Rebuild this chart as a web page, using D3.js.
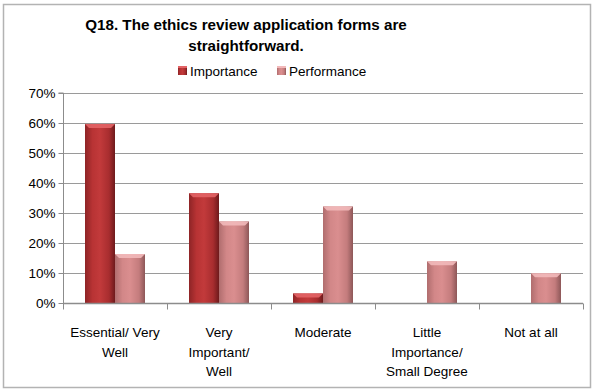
<!DOCTYPE html>
<html>
<head>
<meta charset="utf-8">
<script src="https://cdn.jsdelivr.net/npm/d3@7"></script>
<style>
  body { margin: 0; background: #fff; }
  svg { display: block; font-family: "Liberation Sans", Arial, sans-serif; }
</style>
</head>
<body>
<svg id="chart" width="595" height="390"></svg>
<script>
const categories = [
  ["Essential/ Very", "Well"],
  ["Very", "Important/", "Well"],
  ["Moderate"],
  ["Little", "Importance/", "Small Degree"],
  ["Not at all"]
];
const seriesNames = ["Importance", "Performance"];
const importance = [0.597, 0.366, 0.032, 0, 0];
const performance = [0.163, 0.272, 0.322, 0.139, 0.099];
const yTicks = [0, 0.1, 0.2, 0.3, 0.4, 0.5, 0.6, 0.7];

const svg = d3.select("#chart");
const W = 595, H = 390;
const m = { left: 63, right: 12, top: 93, bottom: 87 };

// outer frame
svg.append("rect").attr("x", 3.5).attr("y", 4.5).attr("width", W - 8).attr("height", H - 7)
  .attr("fill", "#fff").attr("stroke", "#b3b3b3").attr("stroke-width", 1.5);

// gradients for bar shading
const defs = svg.append("defs");
function barGrad(id, stops) {
  const g = defs.append("linearGradient").attr("id", id).attr("x1", 0).attr("x2", 1).attr("y1", 0).attr("y2", 0);
  stops.forEach(([o, c]) => g.append("stop").attr("offset", o).attr("stop-color", c));
}
barGrad("gImp", [[0, "#8e2426"], [0.25, "#b83334"], [0.5, "#c23a3b"], [0.8, "#a82d2f"], [1, "#6e1a1c"]]);
barGrad("gPerf", [[0, "#b06d6e"], [0.25, "#d28788"], [0.5, "#da8e8f"], [0.8, "#c47c7d"], [1, "#8d5758"]]);
const capColors = ["#e36466", "#f2b9ba"];

const x0 = d3.scaleBand().domain(d3.range(categories.length)).range([m.left, W - m.right]);
const x1 = d3.scaleBand().domain(seriesNames).range([0, 60]);
const y = d3.scaleLinear().domain([0, 0.7]).range([H - m.bottom, m.top]);

// gridlines
svg.append("g").selectAll("line").data(yTicks.slice(1)).join("line")
  .attr("x1", m.left).attr("x2", W - m.right)
  .attr("y1", d => Math.round(y(d)) + 0.5).attr("y2", d => Math.round(y(d)) + 0.5)
  .attr("stroke", "#9a9a9a").attr("stroke-width", 1);

// y axis
const yAxis = d3.axisLeft(y).tickValues(yTicks).tickFormat(d3.format(".0%")).tickSize(5).tickPadding(3);
const gy = svg.append("g").attr("transform", `translate(${m.left + 0.5},0)`).call(yAxis);
gy.select(".domain").attr("stroke", "#8c8c8c").attr("d", `M-5,${y(0.7)}H0V${y(0)}`);
gy.selectAll(".tick line").attr("stroke", "#8c8c8c");
gy.selectAll(".tick text").attr("font-size", 13.5).attr("fill", "#000")
  .attr("font-family", "Liberation Sans, Arial, sans-serif");

// bars
const series = [importance, performance];
const grads = ["url(#gImp)", "url(#gPerf)"];
seriesNames.forEach((name, si) => {
  const g = svg.append("g");
  const data = series[si].map((v, i) => ({ i, v })).filter(d => d.v > 0);
  const bx = d => x0(d.i) + (x0.bandwidth() - 60) / 2 + x1(name);
  g.selectAll("rect.bar").data(data).join("rect").attr("class", "bar")
    .attr("x", bx).attr("width", x1.bandwidth())
    .attr("y", d => y(d.v)).attr("height", d => y(0) - y(d.v) + 1)
    .attr("fill", grads[si]);
  // top bevel
  g.selectAll("path.cap").data(data).join("path").attr("class", "cap")
    .attr("d", d => {
      const xl = bx(d), w = x1.bandwidth(), t = y(d.v), h = Math.min(4, y(0) - y(d.v));
      return `M${xl},${t}H${xl + w}L${xl + w - 4},${t + h}H${xl + 4}Z`;
    })
    .attr("fill", capColors[si]).attr("opacity", 0.9);
});

// x axis
const gx = svg.append("g").attr("transform", `translate(0,${y(0) + 0.5})`);
gx.append("line").attr("x1", m.left).attr("x2", W - m.right).attr("stroke", "#8c8c8c").attr("stroke-width", 1.5);
const bounds = d3.range(categories.length + 1).map(i => i < categories.length ? x0(i) : x0.range()[1]);
gx.selectAll("line.tk").data(bounds).join("line").attr("class", "tk")
  .attr("x1", d => Math.round(d) + 0.5).attr("x2", d => Math.round(d) + 0.5)
  .attr("y1", 0).attr("y2", 6).attr("stroke", "#8c8c8c");

// category labels
const lab = svg.append("g").attr("font-size", 13.5).attr("text-anchor", "middle").attr("fill", "#000");
categories.forEach((lines, i) => {
  const t = lab.append("text").attr("x", x0(i) + x0.bandwidth() / 2).attr("y", 337);
  lines.forEach((l, k) => t.append("tspan").attr("x", x0(i) + x0.bandwidth() / 2).attr("dy", k ? 19.5 : 0).text(l));
});

// title
const title = svg.append("text").attr("text-anchor", "middle").attr("font-weight", "bold").attr("font-size", 15.2).attr("fill", "#000");
title.append("tspan").attr("x", 246).attr("y", 30).text("Q18. The ethics review application forms are");
title.append("tspan").attr("x", 246).attr("y", 51).text("straightforward.");

// legend
const legend = svg.append("g").attr("font-size", 13.5);
const legendX = [178, 277];
seriesNames.forEach((n, i) => {
  legend.append("rect").attr("x", legendX[i]).attr("y", 66).attr("width", 9).attr("height", 9).attr("fill", grads[i]);
  legend.append("rect").attr("x", legendX[i]).attr("y", 66).attr("width", 9).attr("height", 2).attr("fill", capColors[i]);
  legend.append("text").attr("x", legendX[i] + 12).attr("y", 75.5).text(n);
});
</script>
</body>
</html>
